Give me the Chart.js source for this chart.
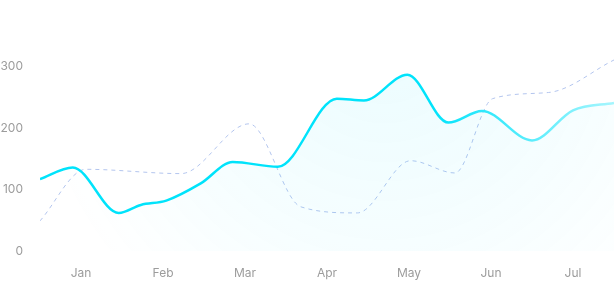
<!DOCTYPE html>
<html>
<head>
<meta charset="utf-8">
<script src="https://cdn.jsdelivr.net/npm/chart.js@4"></script>
<style>
  html, body { margin: 0; padding: 0; background: #fff; }
  #wrap { width: 614px; height: 282px; position: relative; }
</style>
</head>
<body>
<div id="wrap"><canvas id="graficoLinha"></canvas></div>
<script>
// month labels, Jan = 0 on the x axis
const months = ["Jan", "Feb", "Mar", "Apr", "May", "Jun", "Jul"];
const yTicks = [0, 100, 200, 300];

// solid cyan series (x in months)
const salesX = [-0.5, -0.1, 0.46, 0.73, 1.04, 1.46, 1.85, 2.4, 3.12, 3.45, 3.98, 4.48, 4.89, 5.5, 6.0, 6.5];
const salesY = [117, 136, 62, 75, 82, 110, 145, 137, 248, 245, 287, 209, 228, 180, 229, 241];

// dashed series
const prevX = [-0.5, 0.06, 1.22, 2.05, 2.68, 3.37, 4.02, 4.56, 5.02, 5.7, 6.5];
const prevY = [49, 133, 126, 207, 72, 62, 147, 127, 248, 258, 311];

const toPoints = (xs, ys) => xs.map((x, i) => ({ x: x, y: ys[i] }));

const lineGradient = (ctx) => {
  const area = ctx.chart.chartArea;
  if (!area) return "#00e3fb";
  const g = ctx.chart.ctx.createLinearGradient(area.left, 0, area.right, 0);
  g.addColorStop(0, "#00e3fb");
  g.addColorStop(0.68, "#00e3fb");
  g.addColorStop(1, "#a6f5fd");
  return g;
};

const fillGradient = (ctx) => {
  const area = ctx.chart.chartArea;
  if (!area) return "rgba(0,227,251,0.06)";
  const w = area.right - area.left;
  const cx = area.left + w * 0.6;
  const g = ctx.chart.ctx.createRadialGradient(cx, area.top, 0, cx, area.top, w * 0.62);
  g.addColorStop(0, "rgba(0,220,250,0.08)");
  g.addColorStop(0.6, "rgba(0,220,250,0.035)");
  g.addColorStop(1, "rgba(0,220,250,0)");
  return g;
};

const tickFont = { family: "Inter", size: 12 };

new Chart(document.getElementById("graficoLinha"), {
  type: "line",
  data: {
    datasets: [
      {
        label: "Sales",
        data: toPoints(salesX, salesY),
        borderColor: lineGradient,
        backgroundColor: fillGradient,
        borderWidth: 2.5,
        fill: "origin",
        pointRadius: 0,
        cubicInterpolationMode: "monotone",
      },
      {
        label: "Previous",
        data: toPoints(prevX, prevY),
        borderColor: "#b3c5ee",
        borderWidth: 1,
        borderDash: [4, 4],
        fill: false,
        pointRadius: 0,
        cubicInterpolationMode: "monotone",
      },
    ],
  },
  options: {
    responsive: true,
    maintainAspectRatio: false,
    animation: false,
    layout: { padding: { top: 36, left: 0, right: 0, bottom: 0 } },
    plugins: {
      legend: { display: false },
      tooltip: { enabled: false },
    },
    scales: {
      x: {
        type: "linear",
        min: -0.5,
        max: 6.5,
        grid: { display: false, drawTicks: false },
        border: { display: false },
        afterBuildTicks: (axis) => {
          axis.ticks = months.map((m, i) => ({ value: i }));
        },
        afterFit: (axis) => {
          axis.height = 31;
        },
        ticks: {
          color: "#9c9c9c",
          font: tickFont,
          padding: 15,
          maxRotation: 0,
          autoSkip: false,
          callback: (v) => months[v],
        },
      },
      y: {
        min: 0,
        max: 350,
        grid: { display: false, drawTicks: false },
        border: { display: false },
        afterBuildTicks: (axis) => {
          axis.ticks = yTicks.map((v) => ({ value: v }));
        },
        afterFit: (axis) => {
          axis.width = 40;
        },
        ticks: {
          color: "#9c9c9c",
          font: tickFont,
          padding: 17,
        },
      },
    },
  },
});
</script>
</body>
</html>
